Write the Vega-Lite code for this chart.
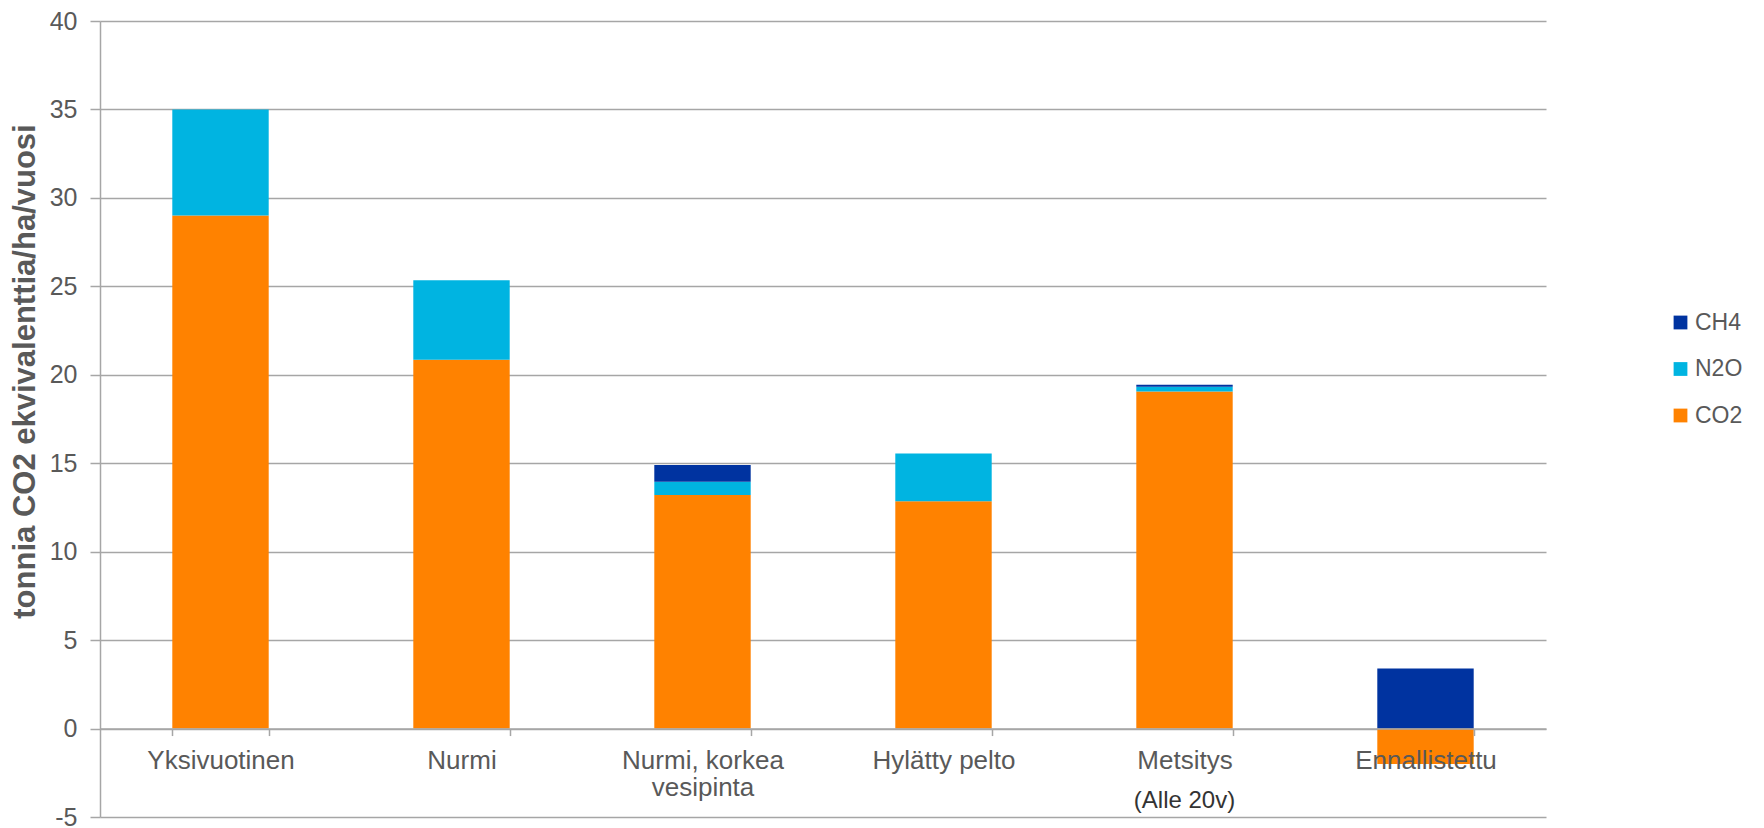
{
  "$schema": "https://vega.github.io/schema/vega-lite/v6.json",
  "width": 1446,
  "height": 796,
  "autosize": "none",
  "padding": {"left": 100, "top": 21, "right": 218, "bottom": 11},
  "background": "white",
  "config": {"view": {"stroke": null}, "font": "Liberation Sans"},
  "datasets": {
    "emissions": [
      {"category": "Yksivuotinen", "gas": "CO2", "value": 29.0},
      {"category": "Yksivuotinen", "gas": "N2O", "value": 6.0},
      {"category": "Nurmi", "gas": "CO2", "value": 20.85},
      {"category": "Nurmi", "gas": "N2O", "value": 4.5},
      {"category": "Nurmi, korkea vesipinta", "gas": "CO2", "value": 13.2},
      {"category": "Nurmi, korkea vesipinta", "gas": "N2O", "value": 0.75},
      {"category": "Nurmi, korkea vesipinta", "gas": "CH4", "value": 0.95},
      {"category": "Hylätty pelto", "gas": "CO2", "value": 12.85},
      {"category": "Hylätty pelto", "gas": "N2O", "value": 2.7},
      {"category": "Metsitys", "gas": "CO2", "value": 19.05},
      {"category": "Metsitys", "gas": "N2O", "value": 0.28},
      {"category": "Metsitys", "gas": "CH4", "value": 0.1},
      {"category": "Ennallistettu", "gas": "CO2", "value": -2.0},
      {"category": "Ennallistettu", "gas": "CH4", "value": 3.4}
    ],
    "gases": [
      {"gas": "CO2", "stackRank": 1},
      {"gas": "N2O", "stackRank": 2},
      {"gas": "CH4", "stackRank": 3}
    ]
  },
  "layer": [
    {
      "data": {"name": "emissions"},
      "transform": [
        {"lookup": "gas", "from": {"data": {"name": "gases"}, "key": "gas", "fields": ["stackRank"]}}
      ],
      "mark": {"type": "bar"},
      "encoding": {
        "x": {
          "field": "category",
          "type": "nominal",
          "sort": ["Yksivuotinen", "Nurmi", "Nurmi, korkea vesipinta", "Hylätty pelto", "Metsitys", "Ennallistettu"],
          "scale": {"paddingInner": 0.6, "paddingOuter": 0.3},
          "axis": {
            "title": null,
            "orient": "bottom",
            "offset": -88.44,
            "zindex": 1,
            "grid": false,
            "domainColor": "#A6A6A6",
            "domainWidth": 1.5,
            "tickBand": "extent",
            "tickSize": 7,
            "tickColor": "#A6A6A6",
            "tickWidth": 1.5,
            "labelAngle": 0,
            "labelFontSize": 26,
            "labelColor": "#595959",
            "labelPadding": 12,
            "labelLineHeight": 27,
            "labelBaseline": "top",
            "labelExpr": "datum.label == 'Nurmi, korkea vesipinta' ? ['Nurmi, korkea', 'vesipinta'] : datum.label"
          }
        },
        "y": {
          "field": "value",
          "type": "quantitative",
          "stack": "zero",
          "scale": {"domain": [-5, 40], "nice": false, "zero": false},
          "axis": {
            "title": "tonnia CO2 ekvivalenttia/ha/vuosi",
            "titleFontSize": 31,
            "titleFontWeight": "bold",
            "titleColor": "#595959",
            "titleBaseline": "alphabetic",
            "titleX": -66,
            "titleY": 350,
            "values": [-5, 0, 5, 10, 15, 20, 25, 30, 35, 40],
            "labelExpr": "datum.value < 0 ? '-' + abs(datum.value) : datum.label",
            "grid": true,
            "gridColor": "#A6A6A6",
            "gridWidth": 1.5,
            "domainColor": "#A6A6A6",
            "domainWidth": 1.5,
            "tickColor": "#A6A6A6",
            "tickWidth": 1.5,
            "tickSize": 10,
            "labelFontSize": 25,
            "labelColor": "#595959",
            "labelPadding": 13
          }
        },
        "color": {
          "field": "gas",
          "type": "nominal",
          "scale": {"domain": ["CH4", "N2O", "CO2"], "range": ["#0033A0", "#00B4E1", "#FF8200"]},
          "legend": {
            "title": null,
            "orient": "none",
            "legendX": 1569,
            "legendY": 290,
            "symbolType": "square",
            "symbolSize": 190,
            "labelFontSize": 23,
            "labelColor": "#595959",
            "rowPadding": 22.5,
            "labelOffset": 3
          }
        },
        "order": {"field": "stackRank", "type": "quantitative", "sort": "ascending"}
      }
    },
    {
      "data": {"name": "emissions"},
      "transform": [{"filter": "datum.category == 'Metsitys' && datum.gas == 'CO2'"}],
      "mark": {"type": "text", "text": "(Alle 20v)", "fontSize": 24, "color": "#333333", "baseline": "middle"},
      "encoding": {
        "x": {"field": "category", "type": "nominal", "sort": ["Yksivuotinen", "Nurmi", "Nurmi, korkea vesipinta", "Hylätty pelto", "Metsitys", "Ennallistettu"]},
        "y": {"datum": -4.1, "type": "quantitative"}
      }
    }
  ]
}
